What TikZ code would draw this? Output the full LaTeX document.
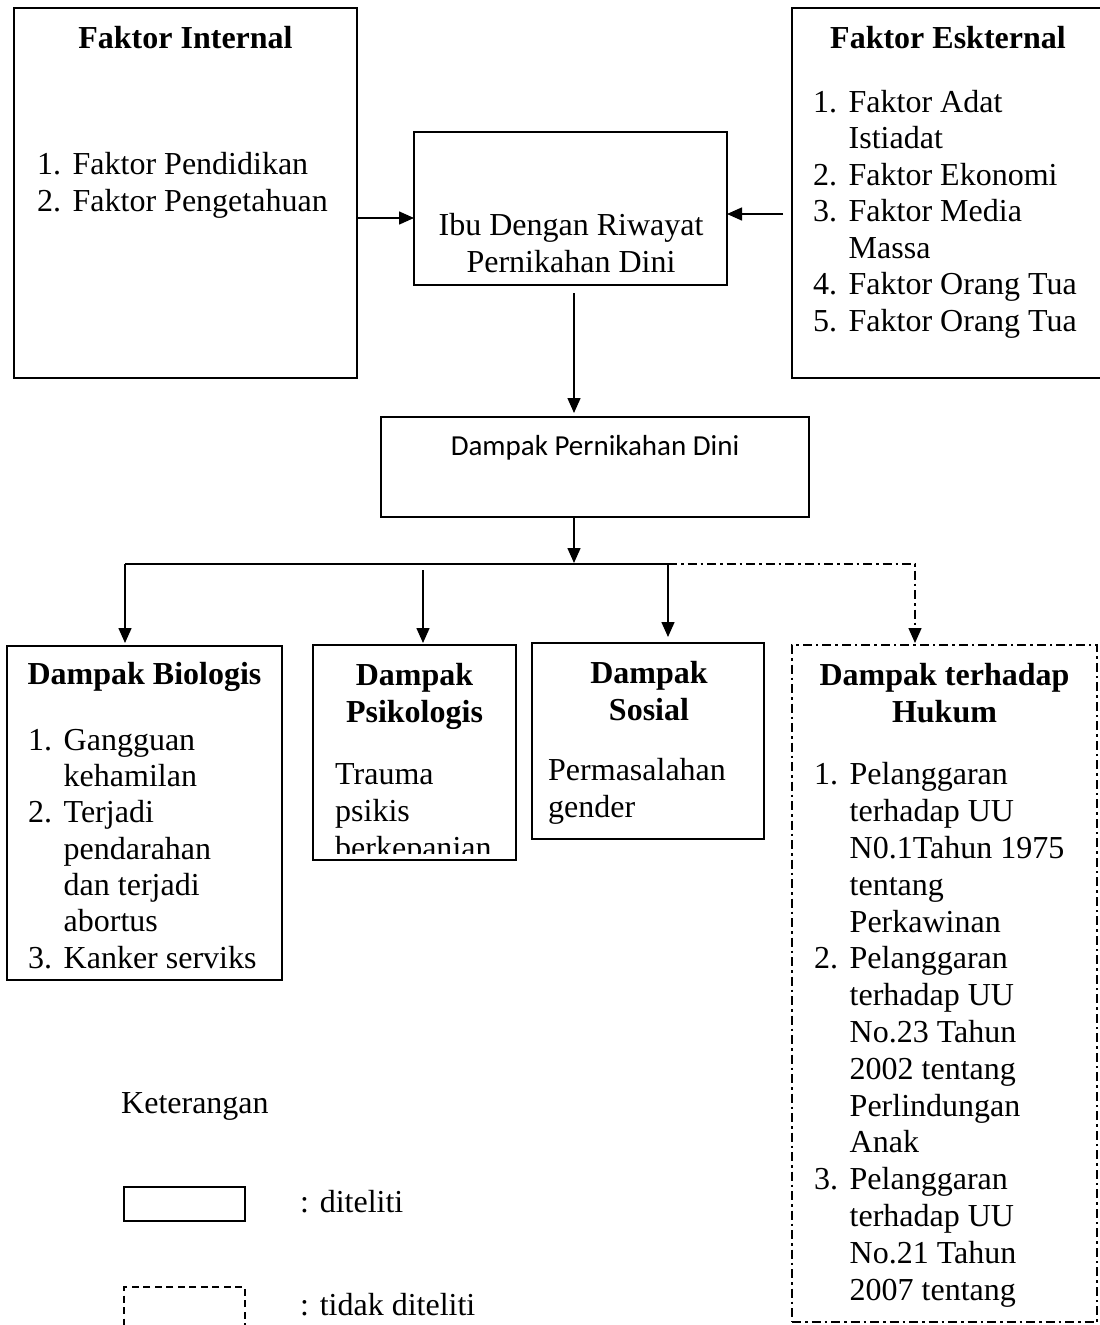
\documentclass[tikz,border=0pt]{standalone}
\usepackage{fontspec}
\setmainfont{Liberation Serif}
\newfontfamily\carlito{Carlito}
\usetikzlibrary{arrows.meta}
\newcommand{\nomor}[1]{\makebox[35.5pt][l]{#1}}
\begin{document}
\begin{tikzpicture}[x=1pt,y=-1pt,
    kotak/.style={draw, line width=1.5pt, outer sep=0pt, inner sep=0pt, anchor=north west},
    titik/.style={dash pattern=on 9pt off 4pt on 2.5pt off 4pt},
    putus/.style={kotak, titik},
    panah/.style={line width=1.5pt, -{Triangle[length=15pt,width=13pt]}},
    judul/.style={font=\fontsize{32}{36.6}\selectfont\bfseries, align=center, anchor=base, inner sep=0pt},
    isi/.style={font=\fontsize{32}{36.6}\selectfont, align=left, anchor=base west, inner sep=0pt}]
    \useasboundingbox (0,0) rectangle (1100,1325);
    \node[kotak, minimum width=343pt, minimum height=370pt] (internal) at (14,8) {};
    \node[kotak, minimum width=313pt, minimum height=153pt] (ibu) at (414,132) {};
    \node[kotak, minimum width=312pt, minimum height=370pt] (eksternal) at (792,8) {};
    \node[kotak, minimum width=428pt, minimum height=100pt] (dpd) at (381,417) {};
    \node[kotak, minimum width=275pt, minimum height=334pt] (biologis) at (7,646) {};
    \node[kotak, minimum width=203pt, minimum height=215pt] (psikologis) at (313,645) {};
    \node[kotak, minimum width=232pt, minimum height=196pt] (sosial) at (532,643) {};
    \node[putus, minimum width=305pt, minimum height=677pt] (hukum) at (792,645) {};

    \node[judul] (judulint) at (185.5,48) {Faktor Internal};
    \node[isi] (isiint) at (37,211) {\nomor{1.}Faktor Pendidikan\\\nomor{2.}Faktor Pengetahuan};
    \node[judul] (juduleks) at (948,48) {Faktor Eskternal};
    \node[isi, font=\fontsize{32}{36.5}\selectfont] (isieks) at (813,331) {\nomor{1.}Faktor Adat\\\nomor{}Istiadat\\\nomor{2.}Faktor Ekonomi\\\nomor{3.}Faktor Media\\\nomor{}Massa\\\nomor{4.}Faktor Orang Tua\\\nomor{5.}Faktor Orang Tua};
    \node[judul, font=\fontsize{32}{37}\selectfont] (teksibu) at (571,272) {Ibu Dengan Riwayat\\Pernikahan Dini};
    \node[font=\carlito\fontsize{29}{34}\selectfont, anchor=base, inner sep=0pt] (teksdpd) at (595,455) {Dampak Pernikahan Dini};

    \node[judul] (judulbio) at (144.5,684) {Dampak Biologis};
    \node[isi, font=\fontsize{32}{36.3}\selectfont] (isibio) at (28,968) {\nomor{1.}Gangguan\\\nomor{}kehamilan\\\nomor{2.}Terjadi\\\nomor{}pendarahan\\\nomor{}dan terjadi\\\nomor{}abortus\\\nomor{3.}Kanker serviks};
    \node[judul] (judulpsi) at (414.5,722) {Dampak\\Psikologis};
    \begin{scope}
        \clip (313,750) rectangle (516,853.5);
        \node[isi] (isipsi) at (335,858) {Trauma\\psikis\\berkepanjan};
    \end{scope}
    \node[judul] (judulsos) at (649,720) {Dampak\\Sosial};
    \node[isi] (isisos) at (548,817) {Permasalahan\\gender};
    \node[judul] (judulhuk) at (944.5,722) {Dampak terhadap\\Hukum};
    \node[isi, font=\fontsize{32}{36.8}\selectfont] (isihuk) at (814,1300) {\nomor{1.}Pelanggaran\\\nomor{}terhadap UU\\\nomor{}N0.1Tahun 1975\\\nomor{}tentang\\\nomor{}Perkawinan\\\nomor{2.}Pelanggaran\\\nomor{}terhadap UU\\\nomor{}No.23 Tahun\\\nomor{}2002 tentang\\\nomor{}Perlindungan\\\nomor{}Anak\\\nomor{3.}Pelanggaran\\\nomor{}terhadap UU\\\nomor{}No.21 Tahun\\\nomor{}2007 tentang};

    \node[isi] (keterangan) at (121,1113) {Keterangan};
    \node[kotak, minimum width=121pt, minimum height=34pt] (legenda1) at (124,1187) {};
    \node[kotak, dash pattern=on 7pt off 4.5pt, minimum width=121pt, minimum height=60pt] (legenda2) at (124,1287) {};
    \node[isi] (ket1) at (300,1212) {: diteliti};
    \node[isi] (ket2) at (300,1315) {: tidak diteliti};

    \coordinate (jalurA) at (0,218);
    \coordinate (jalurB) at (0,214);
    \coordinate (sumbu) at (574,0);
    \coordinate (kiri) at (125,564);
    \coordinate (kanan) at (668,564);
    \coordinate (ujung) at (915,564);
    \coordinate (psi) at (423,570);

    \draw[panah] (internal.east |- jalurA) -- (ibu.west |- jalurA);
    \draw[panah, shorten <=9pt] (eksternal.west |- jalurB) -- (ibu.east |- jalurB);
    \draw[panah, shorten <=8pt, shorten >=4pt] (ibu.south -| sumbu) -- (dpd.north -| sumbu);
    \draw[panah, shorten >=1pt] (dpd.south -| sumbu) -- (kiri -| sumbu);
    \draw[line width=1.5pt] (kiri) -- (kanan);
    \draw[panah, shorten >=3pt] (kiri) -- (kiri |- biologis.north);
    \draw[panah, shorten >=2pt] (psi) -- (psi |- psikologis.north);
    \draw[panah, shorten >=6pt] (kanan) -- (kanan |- sosial.north);
    \draw[panah, titik, shorten >=2pt] (kanan) -- (ujung) -- (ujung |- hukum.north);
\end{tikzpicture}
\end{document}
